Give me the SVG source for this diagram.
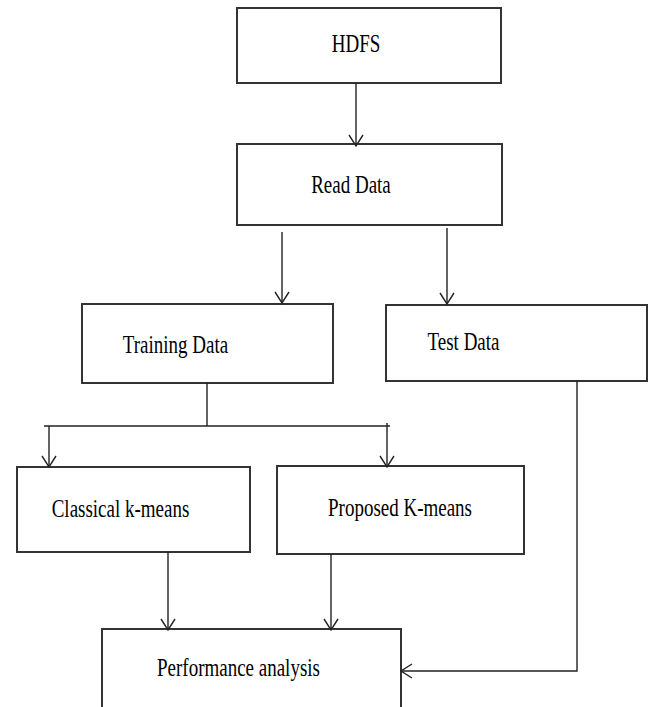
<svg xmlns="http://www.w3.org/2000/svg" width="648" height="707" viewBox="0 0 648 707">
<style>
.box{fill:#fff;stroke:#333;stroke-width:2}
.ln{fill:none;stroke:#222;stroke-width:1.4}
.t{font-family:"Liberation Serif","Times New Roman",serif;font-size:19px;fill:#000;text-anchor:middle}
</style>
<defs>
<marker id="ah" markerUnits="userSpaceOnUse" markerWidth="20" markerHeight="20" viewBox="-14 -10 16 20" refX="0" refY="0" orient="auto">
<path d="M-11,-7 L0,0 L-11,7" fill="none" stroke="#222" stroke-width="1.4"/>
</marker>
</defs>
<rect width="648" height="707" fill="#fff"/>
<g id="hdfs"><rect class="box" x="237" y="8" width="264" height="75"/><text class="t" transform="translate(356,52) scale(1,1.3)">HDFS</text></g>
<g id="read"><rect class="box" x="237" y="144" width="265" height="81"/><text class="t" transform="translate(351,193) scale(1,1.3)">Read Data</text></g>
<g id="training"><rect class="box" x="82" y="304" width="251" height="79"/><text class="t" transform="translate(175.5,353) scale(1,1.3)">Training Data</text></g>
<g id="test"><rect class="box" x="386" y="305" width="261" height="76"/><text class="t" transform="translate(463.5,350) scale(1,1.3)">Test Data</text></g>
<g id="classical"><rect class="box" x="17" y="467" width="233" height="85"/><text class="t" transform="translate(120.5,517) scale(1,1.3)">Classical k-means</text></g>
<g id="proposed"><rect class="box" x="277" y="466" width="247" height="88"/><text class="t" transform="translate(400,516) scale(1,1.3)">Proposed K-means</text></g>
<g id="performance"><rect class="box" x="102" y="629" width="299" height="90"/><text class="t" transform="translate(238.5,676) scale(1,1.3)">Performance analysis</text></g>
<g id="connectors">
<line class="ln" x1="356" y1="83" x2="356" y2="146" marker-end="url(#ah)"/>
<line class="ln" x1="282" y1="232" x2="282" y2="303" marker-end="url(#ah)"/>
<line class="ln" x1="447" y1="228" x2="447" y2="304" marker-end="url(#ah)"/>
<polyline class="ln" points="207,383 207,426"/>
<line class="ln" x1="44" y1="426" x2="390" y2="426"/>
<line class="ln" x1="49" y1="426" x2="49" y2="467" marker-end="url(#ah)"/>
<line class="ln" x1="387" y1="423" x2="387" y2="467" marker-end="url(#ah)"/>
<line class="ln" x1="168" y1="552" x2="168" y2="630" marker-end="url(#ah)"/>
<line class="ln" x1="331" y1="554" x2="331" y2="630" marker-end="url(#ah)"/>
<polyline class="ln" points="577,381 577,671 401,671" marker-end="url(#ah)"/>
</g>
</svg>
